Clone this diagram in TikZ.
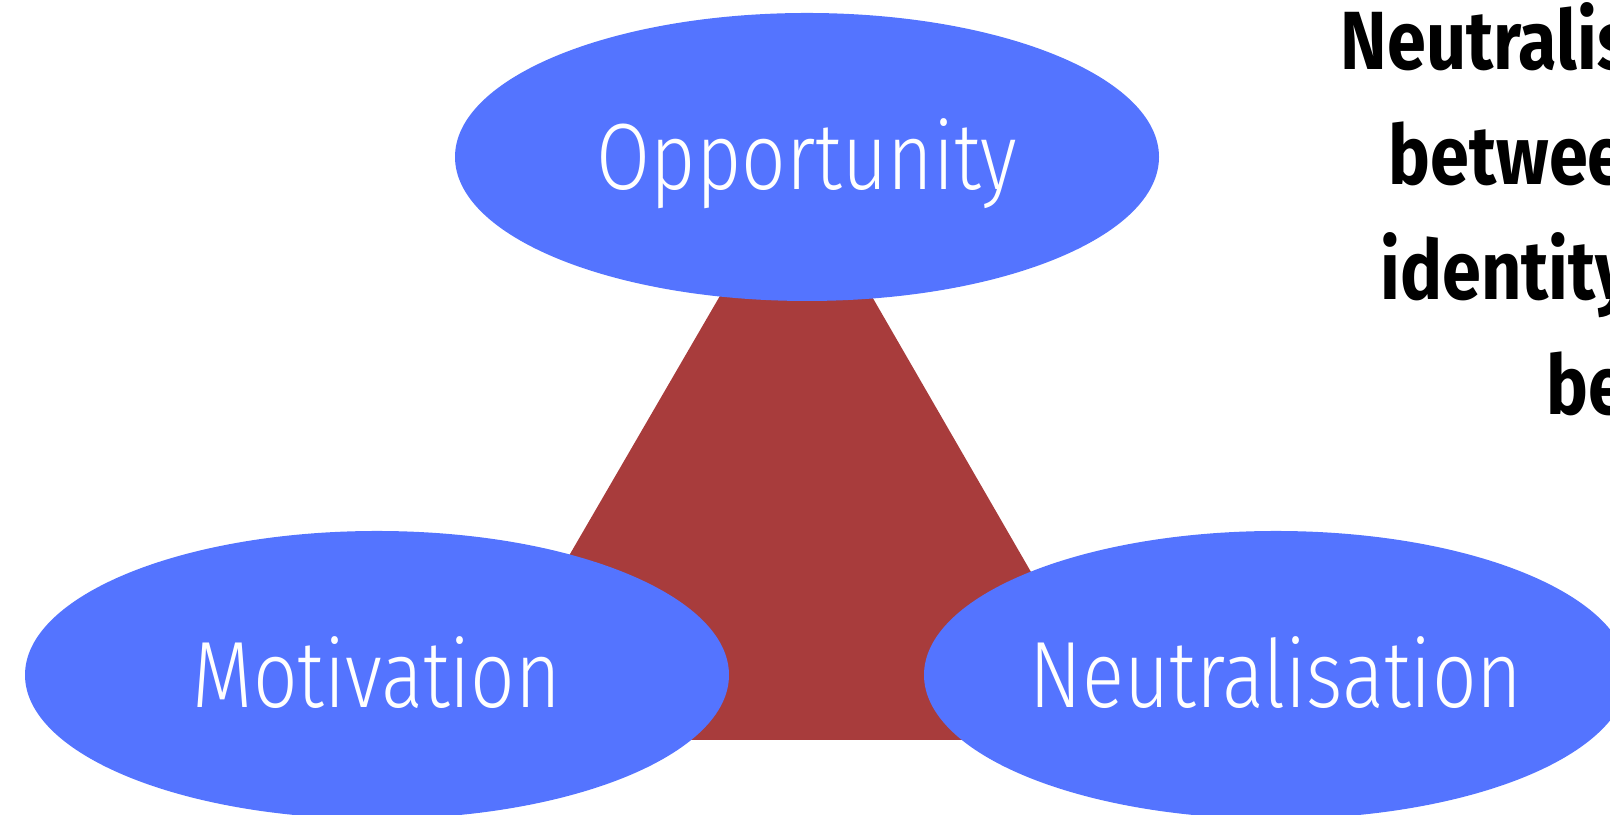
\documentclass[tikz,border=0pt]{standalone}
\usepackage{fontspec}
\setmainfont{Fira Sans}
\newfontfamily\labelfont{Fira Sans Light}[FakeStretch=0.83]
\newfontfamily\headfont{Fira Sans}[FakeStretch=0.85]
\usetikzlibrary{shapes.geometric}
\definecolor{BlobBlue}{RGB}{84,116,255}
\definecolor{BrickRed}{RGB}{168,60,60}

\begin{document}
\begin{tikzpicture}[
    blob/.style={
      ellipse, fill=BlobBlue, text=white, inner sep=0pt,
      minimum width=7.04cm, minimum height=2.88cm,
      text height=18.5pt, text depth=0pt,
      font=\labelfont\fontsize{26.8}{30}\selectfont
    },
    head/.style={
      anchor=base west, inner sep=0pt,
      font=\headfont\bfseries\fontsize{23.5}{28}\selectfont
    }
  ]
    \useasboundingbox (0,0) rectangle (16.1,8.15);

    \coordinate (apex)  at (7.96,6.50);
    \coordinate (left)  at (4.62,0.75);
    \coordinate (right) at (11.28,0.75);
    \fill[BrickRed] (apex) -- (left) -- (right) -- cycle;

    \node[blob] (opp) at (8.07,6.58)  {Opportunity};
    \node[blob] (mot) at (3.77,1.40)  {Motivation};
    \node[blob] (neu) at (12.76,1.40) {Neutralisation};

    \node[head] (line1) at (13.40,7.45) {Neutralisation};
    \node[head] (line2) at (13.88,6.30) {between};
    \node[head] (line3) at (13.80,5.15) {identity};
    \node[head] (line4) at (15.46,4.00) {behaviour};
  \end{tikzpicture}
\end{document}
